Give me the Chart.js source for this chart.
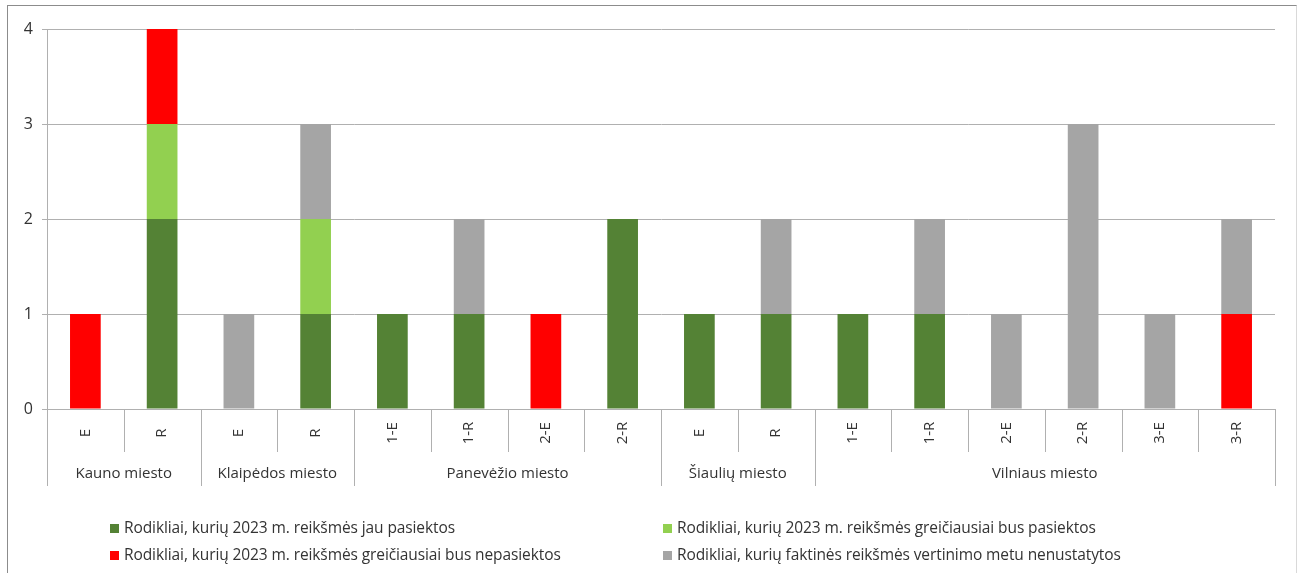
<!DOCTYPE html>
<html>
<head>
<meta charset="utf-8">
<script src="https://cdn.jsdelivr.net/npm/chart.js@4"></script>
<style>
  html, body { margin: 0; padding: 0; background: #fff; }
  #wrap { position: relative; width: 1299px; height: 573px; overflow: hidden; }
  #frame { position: absolute; left: 7px; top: 5px; width: 1290px; height: 600px; border: 1px solid #8c8c8c; border-right-color: #d9d9d9; box-sizing: border-box; }
  canvas { position: absolute; left: 0; top: 0; }
  .lg { position: absolute; font: 15.5px "Open Sans", sans-serif; color: #333; white-space: nowrap; line-height: 20px; letter-spacing: -0.1px; }
  .lg i { display: inline-block; width: 9px; height: 9px; margin-right: 5px; vertical-align: 0px; }
</style>
</head>
<body>
<div id="wrap">
  <div id="frame"></div>
  <canvas id="c" width="1299" height="573"></canvas>
  <div id="legend"></div>
</div>
<script>
/* categories */
const subLabels = ["E", "R", "E", "R", "1-E", "1-R", "2-E", "2-R", "E", "R", "1-E", "1-R", "2-E", "2-R", "3-E", "3-R"];
const groups = ["Kauno miesto", "Klaipėdos miesto", "Panevėžio miesto", "Šiaulių miesto", "Vilniaus miesto"];
const groupSizes = [2, 2, 4, 2, 6];

/* series */
const reached  = [0, 2, 0, 1, 1, 1, 0, 2, 1, 1, 1, 1, 0, 0, 0, 0];
const likely   = [0, 1, 0, 1, 0, 0, 0, 0, 0, 0, 0, 0, 0, 0, 0, 0];
const unlikely = [1, 1, 0, 0, 0, 0, 1, 0, 0, 0, 0, 0, 0, 0, 0, 1];
const unknown  = [0, 0, 1, 1, 0, 1, 0, 0, 0, 1, 0, 1, 1, 3, 1, 1];

const yTicks = [0, 1, 2, 3, 4];

const names = [
  "Rodikliai, kurių 2023 m. reikšmės jau pasiektos",
  "Rodikliai, kurių 2023 m. reikšmės greičiausiai bus pasiektos",
  "Rodikliai, kurių 2023 m. reikšmės greičiausiai bus nepasiektos",
  "Rodikliai, kurių faktinės reikšmės vertinimo metu nenustatytos"
];
const colors = ["#548235", "#92D050", "#FF0000", "#A5A5A5"];

const txt = "#333333";
const line = "#B0B0B0";
const font = '"Open Sans", sans-serif';

/* two-level category axis drawn under the plot */
const axisLabels = {
  id: "axisLabels",
  afterDraw(chart) {
    const ctx = chart.ctx, x = chart.scales.x, a = chart.chartArea;
    const step = x.getPixelForValue(1) - x.getPixelForValue(0);
    const edge = i => x.getPixelForValue(i) - step / 2;
    ctx.save();
    ctx.strokeStyle = line;
    ctx.lineWidth = 1;
    ctx.fillStyle = txt;
    ctx.font = "15px " + font;
    ctx.textAlign = "center";
    ctx.textBaseline = "middle";
    // sub labels + short separators
    subLabels.forEach((l, i) => {
      const cx = x.getPixelForValue(i);
      ctx.save();
      ctx.translate(cx, a.bottom + 24);
      ctx.rotate(-Math.PI / 2);
      ctx.fillText(l, 0, 0);
      ctx.restore();
      const bx = Math.round(edge(i)) + 0.5;
      ctx.beginPath();
      ctx.moveTo(bx, a.bottom);
      ctx.lineTo(bx, a.bottom + 43);
      ctx.stroke();
    });
    // group labels + long separators
    let k = 0;
    const longLine = px => {
      const bx = Math.round(px) + 0.5;
      ctx.beginPath();
      ctx.moveTo(bx, a.bottom);
      ctx.lineTo(bx, a.bottom + 77);
      ctx.stroke();
    };
    longLine(edge(0));
    groups.forEach((g, gi) => {
      const s = edge(k), e = edge(k + groupSizes[gi]);
      ctx.fillText(g, (s + e) / 2, a.bottom + 65);
      k += groupSizes[gi];
      longLine(e);
    });
    ctx.restore();
  }
};

const chart = new Chart(document.getElementById("c"), {
  type: "bar",
  data: {
    labels: subLabels,
    datasets: [reached, likely, unlikely, unknown].map((d, i) => ({
      label: names[i],
      data: d,
      backgroundColor: colors[i],
      borderWidth: 0,
      barPercentage: 0.4,
      categoryPercentage: 1.0
    }))
  },
  options: {
    responsive: false,
    animation: false,
    layout: { padding: { left: 0, top: 29, right: 24, bottom: 164 } },
    plugins: { legend: { display: false }, tooltip: { enabled: false } },
    scales: {
      x: { stacked: true, display: false },
      y: {
        stacked: true,
        min: 0, max: 4,
        afterFit: s => { s.width = 47; },
        afterBuildTicks: s => { s.ticks = yTicks.map(v => ({ value: v })); },
        ticks: { color: txt, font: { family: font, size: 16 }, padding: 9 },
        grid: { color: line, tickLength: 5, lineWidth: 1 },
        border: { color: line }
      }
    }
  },
  plugins: [axisLabels]
});

/* legend: two columns */
const lg = document.getElementById("legend");
const colX = [110, 663], rowY = [517, 544];
chart.data.datasets.forEach((ds, i) => {
  const d = document.createElement("div");
  d.className = "lg";
  d.style.left = colX[i % 2] + "px";
  d.style.top = rowY[Math.floor(i / 2)] + "px";
  d.innerHTML = '<i style="background:' + ds.backgroundColor + '"></i>' + ds.label;
  lg.appendChild(d);
});
</script>
</body>
</html>
